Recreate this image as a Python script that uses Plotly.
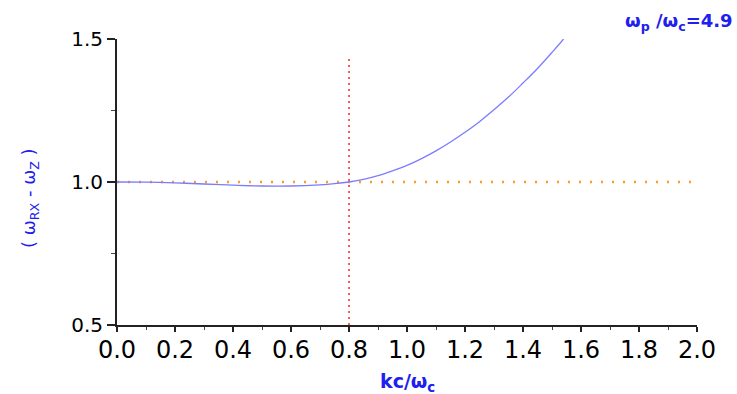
import plotly.graph_objects as go

# Data
k_vals = [0.0, 0.1, 0.2, 0.3, 0.4, 0.5, 0.6, 0.7, 0.75, 0.8, 0.85, 0.9, 0.95, 1.0, 1.05, 1.1,
          1.15, 1.2, 1.25, 1.3, 1.35, 1.4, 1.45, 1.5, 1.54]
w_vals = [1.0, 0.9995, 0.997, 0.993, 0.989, 0.986, 0.986, 0.99, 0.994, 1.0, 1.009, 1.022, 1.039,
          1.058, 1.082, 1.109, 1.140, 1.174, 1.211, 1.253, 1.297, 1.346, 1.397, 1.453, 1.50]
ref_x = [0.0, 2.0]
ref_y = [1.0, 1.0]
vline_x = [0.8, 0.8]
vline_y = [0.5, 1.433]
x_ticks = [0.0, 0.2, 0.4, 0.6, 0.8, 1.0, 1.2, 1.4, 1.6, 1.8, 2.0]
y_ticks = [0.5, 1.0, 1.5]

fig = go.Figure()
fig.add_trace(go.Scatter(x=ref_x, y=ref_y, mode="lines",
                         line=dict(color="#ff9a2a", width=2.5, dash="2px,9px"),
                         showlegend=False, hoverinfo="skip"))
fig.add_trace(go.Scatter(x=vline_x, y=vline_y, mode="lines",
                         line=dict(color="#ff4a4a", width=1.8, dash="2px,4px"),
                         showlegend=False, hoverinfo="skip"))
fig.add_trace(go.Scatter(x=k_vals, y=w_vals, mode="lines",
                         line=dict(color="#7b7bff", width=1.3, shape="spline"),
                         showlegend=False))

fig.update_layout(
    width=737, height=394,
    margin=dict(l=117, r=40, t=39, b=69),
    plot_bgcolor="white", paper_bgcolor="white",
    font=dict(family="DejaVu Sans", color="#222222"),
    xaxis=dict(range=[0, 2.0], tickvals=x_ticks,
               ticktext=[f"{v:.1f}" for v in x_ticks],
               showgrid=False, zeroline=False, showline=True,
               linecolor="#222222", linewidth=2,
               ticks="outside", ticklen=5, tickwidth=1.5, tickcolor="#222222",
               ticklabelstandoff=-3,
               minor=dict(dtick=0.1, ticks="outside", ticklen=3, tickwidth=1, tickcolor="#444444"),
               tickfont=dict(size=24, color="#000000")),
    yaxis=dict(range=[0.5, 1.5], tickvals=y_ticks,
               ticktext=[f"{v:.1f}" for v in y_ticks],
               showgrid=False, zeroline=False, showline=True,
               linecolor="#222222", linewidth=2,
               ticks="outside", ticklen=8, tickwidth=1.5, tickcolor="#222222",
               minor=dict(dtick=0.25, ticks="outside", ticklen=4, tickwidth=1, tickcolor="#444444"),
               tickfont=dict(size=20, color="#000000")),
)

fig.add_annotation(text="( ω<sub>RX</sub> - ω<sub>Z</sub> )", textangle=-90,
                   xref="paper", yref="paper", x=-0.15, y=0.444,
                   xanchor="center", yanchor="middle",
                   showarrow=False, font=dict(size=18, color="#2020ee"))
fig.add_annotation(text="<b>kc/ω<sub>c</sub></b>",
                   xref="paper", yref="paper", x=0.5, y=-0.2,
                   xanchor="center", yanchor="middle",
                   showarrow=False, font=dict(size=19, color="#2020ee"))
fig.add_annotation(text="<b>ω<sub>p</sub> /ω<sub>c</sub>=4.9</b>",
                   xref="paper", yref="paper", x=1.066, y=1.059,
                   xanchor="right", yanchor="middle",
                   showarrow=False, font=dict(size=18, color="#2020ee"))

fig.write_html("out.html")
